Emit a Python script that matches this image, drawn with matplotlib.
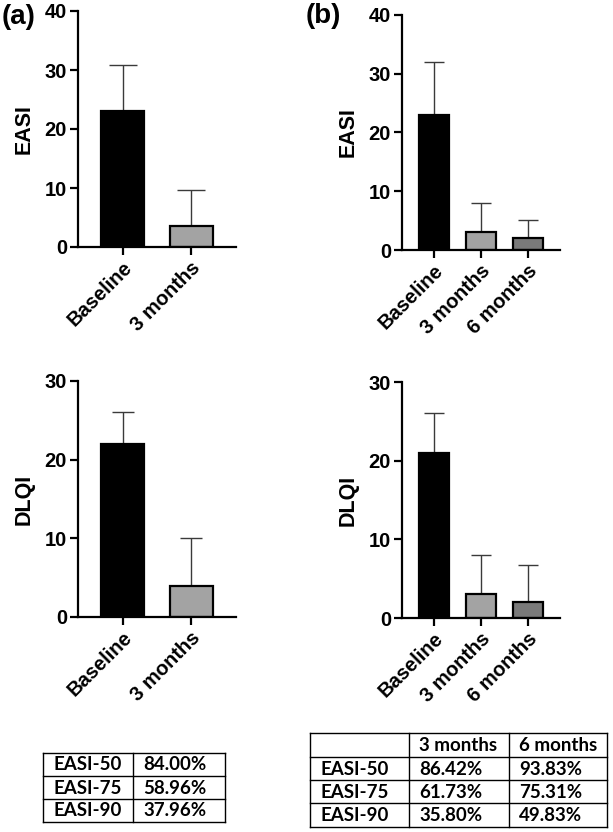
import matplotlib
matplotlib.use("Agg")
import matplotlib.pyplot as plt
import numpy as np

plt.rcParams['font.family'] = ['Liberation Sans', 'DejaVu Sans']

# ---- data ----
cats_a = ["Baseline", "3 months"]
cats_b = ["Baseline", "3 months", "6 months"]
easi_a = [23, 3.5]
easi_a_err = [7.8, 6.1]
dlqi_a = [22, 4]
dlqi_a_err = [4, 6]
easi_b = [23, 3.1, 2]
easi_b_err = [9, 4.9, 3.1]
dlqi_b = [21, 3, 2]
dlqi_b_err = [5, 5, 4.7]

tab_a_rows = ["EASI-50", "EASI-75", "EASI-90"]
tab_a_vals = ["84.00%", "58.96%", "37.96%"]
tab_b_cols = ["", "3 months", "6 months"]
tab_b_rows = ["EASI-50", "EASI-75", "EASI-90"]
tab_b_3m = ["86.42%", "61.73%", "35.80%"]
tab_b_6m = ["93.83%", "75.31%", "49.83%"]

W, H = 613, 832
fig = plt.figure(figsize=(W / 100, H / 100), dpi=100)

colors = ["#000000", "#a3a3a3", "#7a7a7a"]

def px_axes(l, r, t, b):
    return fig.add_axes([l / W, 1 - b / H, (r - l) / W, (b - t) / H])

def bar_panel(ax, cats, vals, errs, ymax, ylabel, xlim, width, capsize):
    x = np.arange(len(cats))
    ax.bar(x, vals, width=width, color=colors[:len(cats)], edgecolor="black",
           linewidth=1.6, zorder=2)
    ax.errorbar(x, vals, yerr=[np.zeros(len(vals)), errs], fmt="none",
                ecolor="#3a3a3a", elinewidth=1.0, capsize=capsize,
                capthick=1.0, zorder=1)
    ax.set_ylim(0, ymax)
    ax.set_xlim(*xlim)
    ax.set_yticks(np.arange(0, ymax + 1, 10))
    ax.set_xticks(x)
    ax.set_xticklabels(cats, rotation=45, ha="right", rotation_mode="anchor",
                       fontsize=14.5, fontweight="bold")
    for lab in ax.get_yticklabels():
        lab.set_fontsize(14.5)
        lab.set_fontweight("bold")
    ax.spines["top"].set_visible(False)
    ax.spines["right"].set_visible(False)
    ax.spines["left"].set_linewidth(1.6)
    ax.spines["bottom"].set_linewidth(1.6)
    ax.tick_params(axis="both", direction="out", length=6, width=1.6, pad=2)
    ax.set_ylabel(ylabel, fontsize=15.5, fontweight="bold", labelpad=7)

ax1 = px_axes(78, 236, 11, 247)
bar_panel(ax1, cats_a, easi_a, easi_a_err, 40, "EASI", (-0.66, 1.66), 0.63, 10)
ax2 = px_axes(402, 560, 15, 250)
bar_panel(ax2, cats_b, easi_b, easi_b_err, 40, "EASI", (-0.68, 2.68), 0.64, 7)
ax3 = px_axes(78, 236, 381, 617)
bar_panel(ax3, cats_a, dlqi_a, dlqi_a_err, 30, "DLQI", (-0.66, 1.66), 0.63, 8)
ax4 = px_axes(402, 560, 382, 618)
bar_panel(ax4, cats_b, dlqi_b, dlqi_b_err, 30, "DLQI", (-0.68, 2.68), 0.64, 7)

fig.text(2 / W, 1 - 17 / H, "(a)", fontsize=20, fontweight="bold", va="center", ha="left")
fig.text(306 / W, 1 - 16 / H, "(b)", fontsize=20, fontweight="bold", va="center", ha="left")

# ---- tables ----
tfont = ['Lato', 'DejaVu Sans']

def draw_table(l, r, t, b, col_edges, row_edges, cells):
    ax = px_axes(l, r, t, b)
    ax.set_xlim(l, r)
    ax.set_ylim(b, t)
    ax.axis("off")
    for xe in col_edges:
        ax.plot([xe, xe], [t, b], color="black", lw=1.0, clip_on=False)
    for ye in row_edges:
        ax.plot([l, r], [ye, ye], color="black", lw=1.0, clip_on=False)
    for i in range(len(row_edges) - 1):
        yc = (row_edges[i] + row_edges[i + 1]) / 2
        for j in range(len(col_edges) - 1):
            txt = cells[i][j]
            if txt:
                ax.text(col_edges[j] + 10, yc + 0.5, txt, fontsize=13.5, fontweight="bold",
                        family=tfont, va="center", ha="left")

cells_a = [[r, v] for r, v in zip(tab_a_rows, tab_a_vals)]
draw_table(43, 225, 753, 822, [43, 133, 225], [753, 776, 799, 822], cells_a)

cells_b = [tab_b_cols] + [[r, a, b] for r, a, b in zip(tab_b_rows, tab_b_3m, tab_b_6m)]
draw_table(310, 607, 733, 827, [310, 409, 509, 607], [733, 757, 780, 803, 827], cells_b)

fig.savefig("out.png", dpi=100)
